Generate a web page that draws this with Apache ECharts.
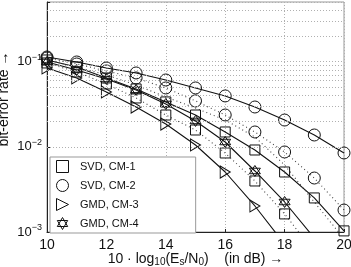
<!DOCTYPE html>
<html lang="en">
  <head>
    <meta charset="UTF-8" />
    <title>bit-error rate vs Es/N0</title>
    <style>
      * {
        margin: 0;
        padding: 0;
      }
      #main {
        width: 351px;
        height: 267px;
        background: #fff;
      }
    </style>
  </head>
  <body>
    <div id="main"></div>
    <script src="https://cdn.jsdelivr.net/npm/echarts@6/dist/echarts.min.js"></script>
    <script>
      // x positions (dB)
      var snr = [10, 11, 12, 13, 14, 15, 16, 17, 18, 19, 20];
      // SVD, CM-2 (circles, solid)
      var svdCm2 = [0.1132, 0.0989, 0.0841, 0.0735, 0.0608, 0.049, 0.0395, 0.0293, 0.0206, 0.01375, 0.00846];
      // circles on the dotted curve
      var svdCm2Dot = [0.1102, 0.0937, 0.0776, 0.0642, 0.049, 0.0345, 0.0236, 0.01492, 0.00869, 0.0043, 0.00181];
      // SVD, CM-1 (squares, solid)
      var svdCm1 = [0.1044, 0.0864, 0.0642, 0.0477, 0.0336, 0.0236, 0.01492, 0.00917, 0.00506, 0.00251, 0.00103];
      // squares on the dotted curve
      var svdCm1Dot = [0.0963, 0.0755, 0.0546, 0.0374, 0.0236, 0.01574, 0.00846, 0.00397, 0.00163, 0.00058];
      // GMD, CM-4 (stars)
      var gmdCm4 = [0.0989, 0.0797, 0.0625, 0.0464, 0.0318, 0.0201, 0.01138, 0.0052, 0.00225, 0.00085];
      // GMD, CM-3 (triangles)
      var gmdCm3 = [0.0841, 0.0642, 0.044, 0.0293, 0.0185, 0.0105, 0.00506, 0.00202, 0.00072];
      // extra dotted curve without markers
      var dotCurve = [0.1044, 0.0864, 0.0696, 0.0531, 0.0384, 0.0285, 0.0206, 0.01303, 0.00611, 0.00225, 0.00083];
      // minor horizontal grid lines
      var minorGrid = [0.002, 0.003, 0.004, 0.005, 0.006, 0.007, 0.008, 0.009,
        0.02, 0.03, 0.04, 0.05, 0.06, 0.07, 0.08, 0.09, 0.2, 0.3, 0.4];

      var square = "path://M0,0L10,0L10,10L0,10Z";
      var triRight = "path://M0,0L10,5L0,10Z";
      var hexStar = "path://M5,0L9.33,7.5L0.67,7.5Z M5,10L0.67,2.5L9.33,2.5Z";

      function pairs(ys) {
        return ys.map(function (y, i) {
          return [snr[i], y];
        });
      }

      function curve(name, ys, symbol, size, dotted) {
        return {
          name: name,
          type: "line",
          data: pairs(ys),
          symbol: symbol,
          symbolSize: size,
          showAllSymbol: true,
          clip: true,
          lineStyle: {
            color: dotted ? "#444" : "#111",
            width: 1.1,
            type: dotted ? [1, 3] : "solid",
          },
          itemStyle: {
            color: "rgba(0,0,0,0)",
            borderColor: "#111",
            borderWidth: 1,
          },
        };
      }

      var myEcharts = echarts.init(document.getElementById("main"));
      var gridDot = { color: "#b0b0b0", width: 1, type: [1, 2] };

      var series = [
        curve("SVD, CM-2", svdCm2, "circle", 12, false),
        curve("SVD, CM-2", svdCm2Dot, "circle", 12, true),
        curve("SVD, CM-1", svdCm1, square, 10, false),
        curve("SVD, CM-1", svdCm1Dot, square, 10, true),
        curve("GMD, CM-4", gmdCm4, hexStar, 11, false),
        curve("GMD, CM-3", gmdCm3, triRight, [10, 12], false),
        curve("bound", dotCurve, "none", 0, true),
      ];
      // minor grid lines on the log axis
      series.push({
        type: "line",
        data: [],
        markLine: {
          silent: true,
          symbol: "none",
          label: { show: false },
          lineStyle: gridDot,
          data: minorGrid.map(function (v) {
            return { yAxis: v };
          }),
        },
      });

      myEcharts.setOption({
        animation: false,
        grid: {
          left: 47,
          right: 7,
          top: 2,
          bottom: 35,
          outerBoundsMode: "none",
          containLabel: false,
          show: true,
          borderColor: "#999",
          borderWidth: 1,
        },
        legend: {
          left: 50,
          top: 157,
          orient: "vertical",
          padding: [3, 57, 3, 6],
          itemGap: 6,
          itemWidth: 25,
          itemHeight: 12,
          backgroundColor: "#fff",
          borderColor: "#999",
          borderWidth: 1,
          textStyle: { fontFamily: "Liberation Sans", fontSize: 11, color: "#111" },
          itemStyle: { color: "rgba(0,0,0,0)", borderColor: "#111", borderWidth: 1 },
          data: [
            { name: "SVD, CM-1", icon: square },
            { name: "SVD, CM-2", icon: "circle" },
            { name: "GMD, CM-3", icon: triRight },
            { name: "GMD, CM-4", icon: hexStar },
          ],
        },
        xAxis: {
          type: "value",
          min: 10,
          max: 20,
          interval: 2,
          name: "{t|10 · log}{s|10}{t|(E}{s|s}{t|/N}{s|0}{t|)    (in dB) →}",
          nameLocation: "middle",
          nameGap: 19,
          nameMoveOverlap: false,
          nameTextStyle: {
            rich: {
              t: { fontFamily: "Liberation Sans", fontSize: 14, color: "#111" },
              s: { fontFamily: "Liberation Sans", fontSize: 10, color: "#111", padding: [6, 0, 0, 0] },
            },
          },
          axisLine: { lineStyle: { color: "#222" } },
          axisTick: { inside: true, length: 3, lineStyle: { color: "#222" } },
          axisLabel: { margin: 6, fontFamily: "Liberation Sans", fontSize: 14, color: "#111" },
          splitLine: { show: true, lineStyle: gridDot },
        },
        yAxis: {
          type: "log",
          logBase: 10,
          min: 0.001,
          max: 0.5,
          name: "bit-error rate →",
          nameLocation: "middle",
          nameGap: 36,
          nameMoveOverlap: false,
          nameTextStyle: {
            fontFamily: "Liberation Sans",
            fontSize: 14,
            color: "#111",
            padding: [0, 0, 0, 36],
          },
          axisLine: { show: true, lineStyle: { color: "#222" } },
          axisTick: { inside: true, length: 3, lineStyle: { color: "#222" } },
          axisLabel: {
            margin: 5,
            formatter: function (v) {
              var e = Math.log10(v);
              var r = Math.round(e);
              if (Math.abs(e - r) > 1e-6) return "";
              return "{a|10}{b|" + (r < 0 ? "−" + -r : r) + "}";
            },
            rich: {
              a: { fontFamily: "Liberation Sans", fontSize: 13, color: "#111" },
              b: { fontFamily: "Liberation Sans", fontSize: 9, color: "#111", padding: [0, 0, 8, 0] },
            },
          },
          splitLine: { show: true, lineStyle: gridDot },
        },
        series: series,
      });
    </script>
  </body>
</html>
